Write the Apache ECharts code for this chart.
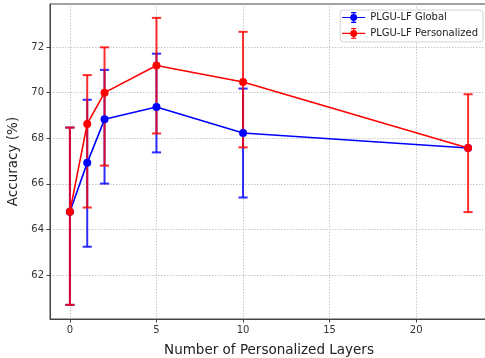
<!DOCTYPE html>
<html>
<head>
<meta charset="utf-8">
<script src="https://cdn.jsdelivr.net/npm/echarts@6/dist/echarts.min.js"></script>
<style>html,body{margin:0;padding:0;background:#fff}#c{width:485px;height:358px}</style>
</head>
<body>
<div id="c"></div>
<script>
// ---- data ----
const layers = [0, 1, 2, 5, 10, 23];
const globalMean = [64.78, 66.92, 68.83, 69.37, 68.23, 67.57];
const globalLow  = [60.69, 63.24, 66.01, 67.38, 65.40, null];
const globalHigh = [68.47, 69.69, 71.00, 71.71, 70.18, null];
const persMean = [64.78, 68.63, 70.00, 71.19, 70.47, 67.57];
const persLow  = [60.69, 64.96, 66.80, 68.21, 67.60, 64.76];
const persHigh = [68.47, 70.77, 71.99, 73.28, 72.67, 69.93];
const xTicks = [0, 5, 10, 15, 20];
const yTicks = [62, 64, 66, 68, 70, 72];
const seriesNames = ['PLGU-LF Global', 'PLGU-LF Personalized'];

const BLUE = '#0000ff', RED = '#ff0000';
const FONT = 'DejaVu Sans';

function errData(low, high) {
  const out = [];
  layers.forEach((x, i) => { if (low[i] != null) out.push([x, low[i], high[i]]); });
  return out;
}
function errRender(color) {
  return function (params, api) {
    const x = api.value(0);
    const lo = api.coord([x, api.value(1)]);
    const hi = api.coord([x, api.value(2)]);
    const cw = 4.6;
    const st = { stroke: color, lineWidth: 2, opacity: 0.82 };
    return {
      type: 'group',
      children: [
        { type: 'line', shape: { x1: lo[0], y1: lo[1], x2: hi[0], y2: hi[1] }, style: st },
        { type: 'line', shape: { x1: lo[0] - cw, y1: lo[1], x2: lo[0] + cw, y2: lo[1] }, style: st },
        { type: 'line', shape: { x1: hi[0] - cw, y1: hi[1], x2: hi[0] + cw, y2: hi[1] }, style: st }
      ]
    };
  };
}
const legendIcon = 'path://M0,5.4H24V6.6H0Z M11.3,0.3H12.7V11.7H11.3Z M9.3,0.3H14.7V1.5H9.3Z M9.3,10.5H14.7V11.7H9.3Z M8.4,6A3.6,3.6 0 1,1 15.6,6A3.6,3.6 0 1,1 8.4,6Z';

const chart = echarts.init(document.getElementById('c'), null, { renderer: 'canvas' });
chart.setOption({
  animation: false,
  backgroundColor: '#fff',
  textStyle: { fontFamily: FONT },
  grid: { left: 50, top: 4, right: -3, bottom: 39, outerBoundsMode: 'none', containLabel: false,
          show: true, borderColor: '#444', borderWidth: 1, backgroundColor: 'transparent' },
  legend: {
    orient: 'vertical', right: 2, top: 10,
    itemWidth: 23, itemHeight: 11, itemGap: 5,
    padding: [2, 5, 3, 2],
    borderColor: '#d4d4d4', borderWidth: 1, borderRadius: 3,
    backgroundColor: 'rgba(255,255,255,0.8)',
    textStyle: { fontFamily: FONT, fontSize: 10, color: '#222' },
    data: [
      { name: seriesNames[0], icon: legendIcon, itemStyle: { color: BLUE } },
      { name: seriesNames[1], icon: legendIcon, itemStyle: { color: RED } }
    ]
  },
  xAxis: {
    type: 'value', min: -1.15, max: 24.15,
    name: 'Number of Personalized Layers', nameLocation: 'middle', nameGap: 24,
    nameTextStyle: { fontFamily: FONT, fontSize: 13.5, color: '#222' },
    axisLine: { show: true, onZero: false, lineStyle: { color: '#444', width: 1 } },
    axisTick: { show: true, length: 3.5, customValues: xTicks, lineStyle: { color: '#444' } },
    axisLabel: { customValues: xTicks, fontFamily: FONT, fontSize: 10, color: '#333', margin: 6 },
    splitLine: { show: true, lineStyle: { color: '#b8b8b8', type: [1.5, 1.5], width: 0.8 } }
  },
  yAxis: {
    type: 'value', min: 60.07, max: 73.89,
    name: 'Accuracy (%)', nameLocation: 'middle', nameGap: 19,
    nameTextStyle: { fontFamily: FONT, fontSize: 13.5, color: '#222' },
    axisLine: { show: true, onZero: false, lineStyle: { color: '#444', width: 1 } },
    axisTick: { show: true, length: 3.5, customValues: yTicks, lineStyle: { color: '#444' } },
    axisLabel: { customValues: yTicks, fontFamily: FONT, fontSize: 10, color: '#333', margin: 6 },
    splitLine: { show: true, lineStyle: { color: '#b8b8b8', type: [1.5, 1.5], width: 0.8 } }
  },
  series: [
    { name: 'gErr', type: 'custom', renderItem: errRender(BLUE), data: errData(globalLow, globalHigh), z: 2, encode: { x: 0, y: [1, 2] }, silent: true },
    { name: 'pErr', type: 'custom', renderItem: errRender(RED), data: errData(persLow, persHigh), z: 3, encode: { x: 0, y: [1, 2] }, silent: true },
    { name: seriesNames[0], type: 'line', data: layers.map((x, i) => [x, globalMean[i]]), z: 4,
      symbol: 'circle', symbolSize: 8, showSymbol: true,
      lineStyle: { color: BLUE, width: 1.6 }, itemStyle: { color: BLUE, borderWidth: 0 } },
    { name: seriesNames[1], type: 'line', data: layers.map((x, i) => [x, persMean[i]]), z: 5,
      symbol: 'circle', symbolSize: 8, showSymbol: true,
      lineStyle: { color: RED, width: 1.6 }, itemStyle: { color: RED, borderWidth: 0 } }
  ]
});
</script>
</body>
</html>
